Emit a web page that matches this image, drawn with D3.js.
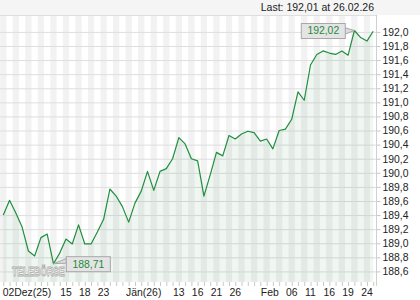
<!DOCTYPE html>
<html>
<head>
<meta charset="utf-8">
<script src="https://cdn.jsdelivr.net/npm/d3@7"></script>
<style>
  html, body { margin: 0; padding: 0; background: #fff; }
  svg { display: block; font-family: "Liberation Sans", Arial, sans-serif; }
</style>
</head>
<body>
<svg id="chart" width="420" height="300"></svg>
<script>
// ---- data ----
const prices = [
  189.40, 189.61, 189.43, 189.23, 188.89, 188.82, 189.08, 189.13, 188.71, 188.86,
  189.06, 188.99, 189.26, 188.99, 188.99, 189.16, 189.34, 189.77, 189.67, 189.52,
  189.30, 189.57, 189.74, 190.02, 189.75, 190.02, 190.06, 190.20, 190.50, 190.41,
  190.20, 190.17, 189.67, 189.97, 190.29, 190.24, 190.53, 190.48, 190.55, 190.59,
  190.57, 190.45, 190.48, 190.34, 190.60, 190.62, 190.76, 191.15, 191.03, 191.53,
  191.68, 191.73, 191.70, 191.68, 191.73, 191.67, 192.02, 191.92, 191.87, 192.01
];
const xTickPos    = [1, 10, 13, 16, 22.4, 28, 31, 34, 37, 42.5, 46, 49, 52, 55, 58];
const xTickLabels = ["02Dez(25)", "15", "18", "23", "Jän(26)", "13", "16", "21", "26", "Feb", "06", "11", "16", "19", "24"];
const yTickValues = [188.6, 188.8, 189.0, 189.2, 189.4, 189.6, 189.8, 190.0, 190.2, 190.4, 190.6, 190.8, 191.0, 191.2, 191.4, 191.6, 191.8, 192.0];
const yDomain = [188.45, 192.24];
const headerText = "Last: 192,01 at 26.02.26";
const watermark = "TELEBÖRSE";

// ---- layout ----
const W = 420, H = 300;
const plot = { left: 0, right: 376, top: 15, bottom: 282 };
const green = "#1f8f3f";
const fmt = v => v.toFixed(1).replace(".", ",");
const fmt2 = v => v.toFixed(2).replace(".", ",");

const svg = d3.select("#chart");
const x = d3.scaleLinear().domain([0, prices.length - 1]).range([3.3, 373.2]);
const y = d3.scaleLinear().domain(yDomain).range([plot.bottom, plot.top]);

// header band
svg.append("rect").attr("x", 0).attr("y", 0).attr("width", W).attr("height", plot.top)
  .attr("fill", "#f5f5f5");
svg.append("text").attr("x", 374).attr("y", 11).attr("text-anchor", "end")
  .attr("font-size", 10.5).attr("fill", "#222").text(headerText);

// stripes
const g = svg.append("g");
g.selectAll("rect.stripe").data(prices.map((d, i) => i).filter(i => i % 2 === 0))
  .join("rect").attr("class", "stripe")
  .attr("x", i => Math.max(plot.left, x(i - 0.5)))
  .attr("width", i => Math.min(plot.right, x(i + 0.5)) - Math.max(plot.left, x(i - 0.5)))
  .attr("y", plot.top).attr("height", plot.bottom - plot.top)
  .attr("fill", "#f2f2f2");

// gridlines
g.selectAll("line.grid").data(yTickValues).join("line").attr("class", "grid")
  .attr("x1", plot.left).attr("x2", plot.right)
  .attr("y1", d => y(d) + 0.5).attr("y2", d => y(d) + 0.5)
  .attr("stroke", "#dedede").attr("stroke-width", 1);
svg.append("line").attr("x1", plot.left).attr("x2", plot.right)
  .attr("y1", plot.top + 0.5).attr("y2", plot.top + 0.5).attr("stroke", "#dedede");

// area + line
const area = d3.area().x((d, i) => x(i)).y0(plot.bottom).y1(d => y(d));
svg.append("path").datum(prices).attr("d", area).attr("fill", "rgba(40,130,50,0.07)");
const line = d3.line().x((d, i) => x(i)).y(d => y(d));
svg.append("path").datum(prices).attr("d", line).attr("fill", "none")
  .attr("stroke", green).attr("stroke-width", 1.2).attr("stroke-linejoin", "round");

// right axis
svg.append("line").attr("x1", plot.right + 0.5).attr("x2", plot.right + 0.5)
  .attr("y1", plot.top).attr("y2", plot.bottom + 4).attr("stroke", "#d0d0d0");
const yAxis = d3.axisRight(y).tickValues(yTickValues).tickFormat(fmt).tickSize(4).tickPadding(2);
const ya = svg.append("g").attr("transform", `translate(${plot.right + 0.5},0)`).call(yAxis);
ya.select(".domain").remove();
ya.selectAll(".tick line").attr("stroke", "#c8c8c8");
ya.selectAll(".tick text").attr("font-size", 10.4).attr("fill", "#222")
  .attr("font-family", "Liberation Sans, Arial, sans-serif");

// bottom axis: ticks at every point
const xAxis = d3.axisBottom(x).tickValues(prices.map((d, i) => i)).tickFormat("").tickSize(4);
const xa = svg.append("g").attr("transform", `translate(0,${plot.bottom})`).call(xAxis);
xa.select(".domain").remove();
xa.selectAll(".tick line").attr("stroke", "#c8c8c8");
svg.append("g").selectAll("text").data(xTickPos).join("text")
  .attr("x", (d, i) => i === 0 ? x(0) - 0.6 : x(d))
  .attr("y", 295.5)
  .attr("text-anchor", (d, i) => i === 0 ? "start" : "middle")
  .attr("font-size", 10.4).attr("fill", "#222")
  .text((d, i) => xTickLabels[i]);

// watermark (horizontally compressed)
svg.append("g").attr("transform", "translate(12,276) scale(0.72,1)")
  .append("text").attr("x", 0).attr("y", 0).attr("font-size", 12).attr("font-weight", "bold")
  .attr("fill", "#fff").attr("stroke", "#aaa").attr("stroke-width", 0.8).text(watermark);

// min / max callouts
const iMin = d3.minIndex(prices), iMax = d3.maxIndex(prices);
function callout(i, side) {
  const px = x(i), py = y(prices[i]);
  const bw = 44, bh = 15;
  const bx = side === "right" ? px + 12.4 : px - 9.6 - bw;
  const by = py - 7.5;
  const edge = side === "right" ? bx : bx + bw;
  const cg = svg.append("g");
  cg.append("path")
    .attr("d", side === "right"
      ? `M${px},${py} L${edge + 0.5},${py - 5} L${edge + 0.5},${py - 0.5} Z`
      : `M${px},${py} L${edge - 0.5},${py - 3} L${edge - 0.5},${py + 4} Z`)
    .attr("fill", "#dcdcdc").attr("stroke", "#a8a8a8").attr("stroke-width", 1);
  cg.append("rect").attr("x", bx + 0.5).attr("y", by + 0.5).attr("width", bw).attr("height", bh)
    .attr("fill", "#e4e4e4").attr("stroke", "#a8a8a8").attr("stroke-width", 1);
  cg.append("text").attr("x", bx + bw / 2 + 0.5).attr("y", by + 11.5).attr("text-anchor", "middle")
    .attr("font-size", 10.4).attr("fill", "#1e8a3c").text(fmt2(prices[i]));
}
callout(iMin, "right");
callout(iMax, "left");
</script>
</body>
</html>
